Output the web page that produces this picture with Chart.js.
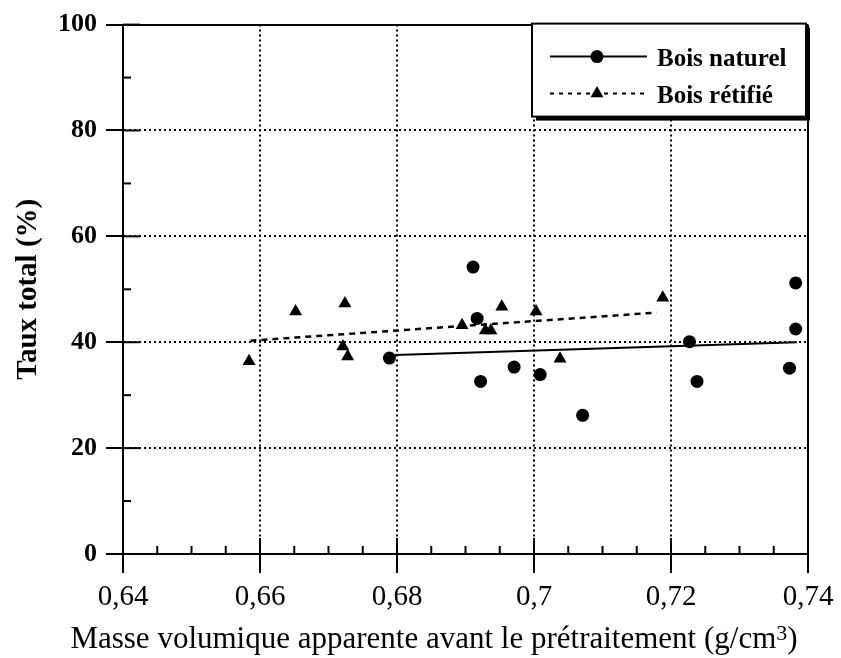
<!DOCTYPE html>
<html>
<head>
<meta charset="utf-8">
<script src="https://cdn.jsdelivr.net/npm/chart.js@4.4.1/dist/chart.umd.min.js"></script>
<style>
  html, body { margin: 0; padding: 0; background: #fff; }
  #wrap { width: 841px; height: 658px; }
</style>
</head>
<body>
<div id="wrap"><canvas id="tauxChart"></canvas></div>
<script>
// valeurs
const naturelX = [0.6911, 0.6917, 0.6789, 0.6971, 0.6922, 0.7382, 0.7382, 0.7227, 0.7009, 0.7373, 0.7238, 0.7071];
const naturelY = [54.2, 44.5, 37.0, 35.3, 32.6, 51.2, 42.5, 40.1, 33.9, 35.1, 32.6, 26.2];

const retifieX = [0.6584, 0.6652, 0.6724, 0.6721, 0.6728, 0.6895, 0.6929, 0.6937, 0.6953, 0.7003, 0.7038, 0.7188];
const retifieY = [36.4, 45.8, 47.3, 39.2, 37.3, 43.2, 42.2, 42.2, 46.7, 45.8, 36.9, 48.4];

// droites de regression (extremites)
const fitNaturelX = [0.6797, 0.7384];
const fitNaturelY = [37.6, 40.0];
const fitRetifieX = [0.6586, 0.7179];
const fitRetifieY = [40.3, 45.6];

const xMin = 0.64, xMax = 0.74, xStep = 0.005, xMajor = 0.02;
const yMin = 0, yMax = 100, yStep = 5, yMajor = 20;

const serif = '"Liberation Serif", "Times New Roman", serif';

function toPoints(xs, ys) {
    return xs.map((x, i) => ({ x: x, y: ys[i] }));
}

function isMajor(v, step) {
    const r = v / step;
    return Math.abs(r - Math.round(r)) < 1e-6;
}

function fmtX(v) {
    return String(+v.toFixed(2)).replace('.', ',');
}

// petites graduations vers l'interieur
const innerTicks = {
    id: 'innerTicks',
    beforeDatasetsDraw(chart) {
        const ctx = chart.ctx;
        const xs = chart.scales.x, ys = chart.scales.y;
        const area = chart.chartArea;
        ctx.save();
        ctx.strokeStyle = '#000';
        ctx.lineWidth = 2;
        xs.ticks.forEach(t => {
            const px = xs.getPixelForValue(t.value);
            const len = isMajor(t.value, xMajor) ? 16 : 8;
            ctx.beginPath();
            ctx.moveTo(px, area.bottom);
            ctx.lineTo(px, area.bottom - len);
            ctx.stroke();
        });
        ys.ticks.forEach(t => {
            const py = ys.getPixelForValue(t.value);
            const len = isMajor(t.value, yMajor) ? 17 : 8;
            ctx.beginPath();
            ctx.moveTo(area.left, py);
            ctx.lineTo(area.left + len, py);
            ctx.stroke();
        });
        ctx.restore();
    }
};

// titre de l'axe x avec exposant
const xTitle = {
    id: 'xTitle',
    afterDraw(chart) {
        const ctx = chart.ctx;
        const main = 'Masse volumique apparente avant le prétraitement (g/cm';
        ctx.save();
        ctx.fillStyle = '#000';
        ctx.textBaseline = 'alphabetic';
        ctx.font = '31px ' + serif;
        const w1 = ctx.measureText(main).width;
        const w3 = ctx.measureText(')').width;
        ctx.font = '22px ' + serif;
        const wSup = ctx.measureText('3').width;
        const total = w1 + wSup + w3;
        let x = chart.chartArea.left + 311 - total / 2;
        const base = 648;
        ctx.font = '31px ' + serif;
        ctx.fillText(main, x, base);
        x += w1;
        ctx.font = '22px ' + serif;
        ctx.fillText('3', x, base - 8);
        x += wSup;
        ctx.font = '31px ' + serif;
        ctx.fillText(')', x, base);
        ctx.restore();
    }
};

// legende encadree avec ombre
const boxLegend = {
    id: 'boxLegend',
    afterDraw(chart) {
        const ctx = chart.ctx;
        const area = chart.chartArea;
        const bx = area.right - 276, by = area.top - 1, bw = 274, bh = 93;
        ctx.save();
        ctx.fillStyle = '#000';
        ctx.fillRect(bx + 4, by + 4, bw, bh);
        ctx.fillStyle = '#fff';
        ctx.fillRect(bx, by, bw, bh);
        ctx.strokeStyle = '#000';
        ctx.lineWidth = 2;
        ctx.strokeRect(bx, by, bw, bh);

        const rows = [
            { label: chart.data.datasets[0].label, dash: [], y: by + 33, style: 'circle', r: 6.5 },
            { label: chart.data.datasets[1].label, dash: [4, 5], y: by + 70, style: 'triangle', r: 7.5 }
        ];
        rows.forEach(row => {
            ctx.save();
            ctx.lineWidth = 2;
            ctx.setLineDash(row.dash);
            ctx.beginPath();
            ctx.moveTo(bx + 18, row.y);
            ctx.lineTo(bx + 115, row.y);
            ctx.stroke();
            ctx.restore();
            ctx.fillStyle = '#000';
            Chart.helpers.drawPoint(ctx, { pointStyle: row.style, radius: row.r, borderWidth: 0, rotation: 0 }, bx + 65, row.y);
            ctx.fillStyle = '#000';
            ctx.font = 'bold 25px ' + serif;
            ctx.textBaseline = 'alphabetic';
            ctx.fillText(row.label, bx + 125, row.y + 9);
        });
        ctx.restore();
    }
};

const ctx = document.getElementById('tauxChart').getContext('2d');
const chart = new Chart(ctx, {
    type: 'scatter',
    data: {
        datasets: [
            {
                label: 'Bois naturel',
                data: toPoints(naturelX, naturelY),
                pointStyle: 'circle',
                pointRadius: 6.5,
                backgroundColor: '#000',
                borderColor: '#000',
                borderWidth: 0
            },
            {
                label: 'Bois rétifié',
                data: toPoints(retifieX, retifieY),
                pointStyle: 'triangle',
                pointRadius: 7.5,
                backgroundColor: '#000',
                borderColor: '#000',
                borderWidth: 0
            },
            {
                label: 'fit naturel',
                type: 'line',
                data: toPoints(fitNaturelX, fitNaturelY),
                borderColor: '#000',
                borderWidth: 2,
                pointRadius: 0,
                fill: false
            },
            {
                label: 'fit retifie',
                type: 'line',
                data: toPoints(fitRetifieX, fitRetifieY),
                borderColor: '#000',
                borderWidth: 2.5,
                borderDash: [6, 5],
                pointRadius: 0,
                fill: false
            }
        ]
    },
    options: {
        responsive: true,
        maintainAspectRatio: false,
        animation: false,
        layout: { padding: { top: 21, right: 33, left: 0, bottom: 0 } },
        plugins: {
            legend: { display: false },
            tooltip: { enabled: false }
        },
        scales: {
            x: {
                type: 'linear',
                min: xMin,
                max: xMax,
                afterFit: s => { s.height = 104; },
                ticks: {
                    stepSize: xStep,
                    autoSkip: false,
                    maxRotation: 0,
                    padding: 7,
                    color: '#000',
                    font: { family: serif, size: 29 },
                    callback: v => isMajor(v, xMajor) ? fmtX(v) : ''
                },
                grid: {
                    lineWidth: 2,
                    tickLength: 19,
                    tickWidth: 2,
                    color: c => (c.tick && isMajor(c.tick.value, xMajor) && c.tick.value > xMin + 1e-6) ? '#000' : 'rgba(0,0,0,0)',
                    tickColor: c => (c.tick && isMajor(c.tick.value, xMajor)) ? '#000' : 'rgba(0,0,0,0)'
                },
                border: {
                    display: true,
                    color: '#000',
                    width: 2,
                    dash: c => (c.tick && c.tick.value > xMax - 1e-6) ? [] : [2, 3]
                }
            },
            y: {
                type: 'linear',
                min: yMin,
                max: yMax,
                afterFit: s => { s.width = 123; },
                title: {
                    display: true,
                    text: 'Taux total (%)',
                    color: '#000',
                    font: { family: serif, size: 29, weight: 'bold' },
                    padding: { top: 11, bottom: 0 }
                },
                ticks: {
                    stepSize: yStep,
                    padding: 9,
                    color: '#000',
                    font: { family: serif, size: 26, weight: 'bold' },
                    callback: v => isMajor(v, yMajor) ? v : ''
                },
                grid: {
                    lineWidth: 2,
                    tickLength: 17,
                    tickWidth: 2,
                    color: c => (c.tick && isMajor(c.tick.value, yMajor) && c.tick.value > yMin) ? '#000' : 'rgba(0,0,0,0)',
                    tickColor: c => (c.tick && isMajor(c.tick.value, yMajor)) ? '#000' : 'rgba(0,0,0,0)'
                },
                border: {
                    display: true,
                    color: '#000',
                    width: 2,
                    dash: c => (c.tick && c.tick.value >= yMax) ? [] : [2, 3]
                }
            }
        }
    },
    plugins: [innerTicks, xTitle, boxLegend]
});
</script>
</body>
</html>
